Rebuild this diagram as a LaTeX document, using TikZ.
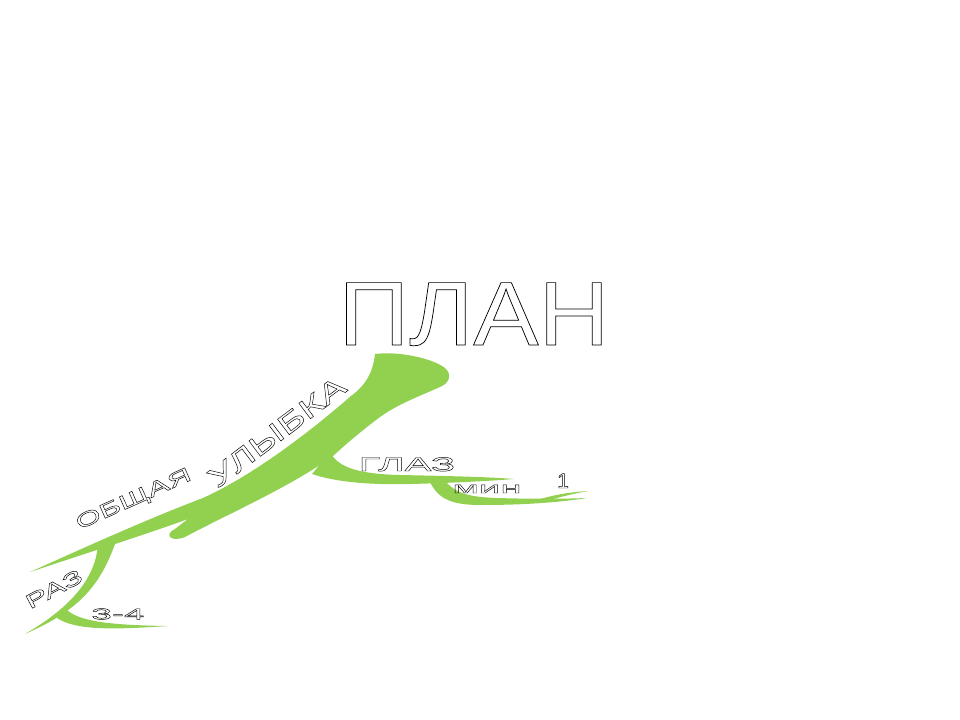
\documentclass[tikz,border=0pt]{standalone}
\usepackage{fontspec}
\setmainfont{Liberation Sans}
\usepackage{xcolor}
\usepackage{tikz}
\definecolor{leaf}{RGB}{146,208,80}
\tikzset{plan_scene/.style={x=0.75pt,y=-0.75pt}}
\tikzset{leaf_branch/.style={fill=leaf, draw=none}}
\tikzset{hollow_word/.style={inner sep=0pt, outer sep=0pt}}
\newcommand{\hollowtext}[4][0.35]{{\fontspec[FakeStretch=#2]{Liberation Sans}\fontsize{#3}{#3}\selectfont
    \special{pdf:literal direct 1 Tr #1 w 0 G}#4\special{pdf:literal direct 0 Tr}}}

\begin{document}
\begin{tikzpicture}[plan_scene]
    \tikzstyle{every node}=[hollow_word]
    %\draw[help lines, step=40] (0,0) grid (960,720);
    \useasboundingbox (0,0) rectangle (960,720);

    % trunk
    \fill[leaf_branch] (375,354) .. controls (398,351) and (432,358) .. (445,368)
        .. controls (452,374) and (450,383) .. (440,387)
        .. controls (420,396) and (398,404) .. (380,417)
        .. controls (360,432) and (345,445) .. (333,456)
        .. controls (290,487) and (230,513) .. (185,537)
        .. controls (170,543) and (164,534) .. (175,529)
        .. controls (180,525) and (184,522) .. (188,519)
        .. controls (150,533) and (90,552) .. (30,572)
        .. controls (90,545) and (150,518) .. (203,498)
        .. controls (260,472) and (320,423) .. (351,396)
        .. controls (366,385) and (373,372) .. (375,354) -- cycle;
    % branches
    \fill[leaf_branch] (330,452) .. controls (338,468) and (360,474) .. (400,475)
        .. controls (450,476) and (490,477) .. (514,479)
        .. controls (490,481) and (450,483) .. (410,484)
        .. controls (370,485) and (335,482) .. (312,474) -- cycle;
    \fill[leaf_branch] (430,482) .. controls (438,498) and (450,505) .. (480,505)
        .. controls (520,505) and (555,503) .. (587,498)
        .. controls (560,499) and (530,499) .. (497,498)
        .. controls (470,497) and (457,494) .. (446,482) -- cycle;
    \fill[leaf_branch] (540,499) .. controls (558,494) and (572,492) .. (588,491)
        .. controls (572,494) and (560,497) .. (550,500) -- cycle;
    \fill[leaf_branch] (98,544) .. controls (96,575) and (75,605) .. (25,634)
        .. controls (80,610) and (100,585) .. (115,544) -- cycle;
    \fill[leaf_branch] (64,607) .. controls (75,620) and (100,625) .. (168,626)
        .. controls (110,630) and (75,630) .. (57,618) -- cycle;

    \node[anchor=base] (title) at (474,345) {\hollowtext[0.55]{1.08}{68pt}{ПЛАН}};
    \node[anchor=base] (glaz) at (407,471) {\hollowtext{2.05}{14.7pt}{ГЛАЗ}};
    \node[anchor=base] (min) at (487,493) {\hollowtext{2.5}{11.5pt}{мин}};
    \node[anchor=base] (one) at (563,488) {\hollowtext{1}{15.7pt}{1}};
    \node[rotate=24] (obshchaya) at (134,500) {\hollowtext{1.65}{15pt}{ОБЩАЯ}};
    \node[rotate=37] (ulybka) at (277,432) {\hollowtext{1.45}{21pt}{УЛЫБКА}};
    \node[rotate=28] (raz) at (54,589) {\hollowtext{1.65}{15pt}{РАЗ}};
    \node (three_four) at (118,614) {\hollowtext{2.4}{11.5pt}{3-4}};
\end{tikzpicture}
\end{document}
